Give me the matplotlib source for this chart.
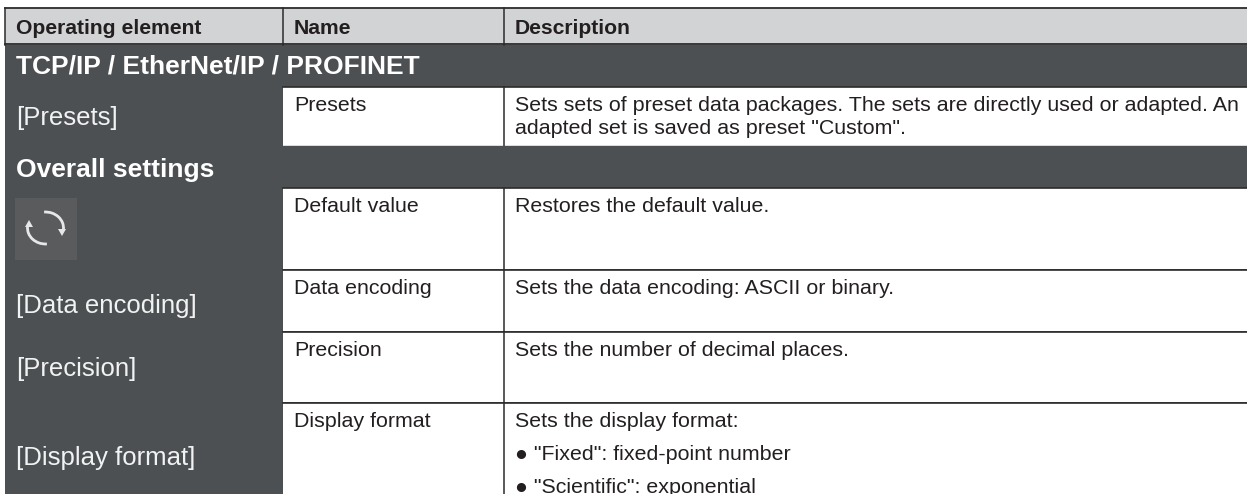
import matplotlib
matplotlib.use('Agg')
import matplotlib.pyplot as plt
from matplotlib.patches import Rectangle, Arc, Polygon

plt.rcParams['font.family'] = ['Liberation Sans', 'DejaVu Sans']

headers = ['Operating element', 'Name', 'Description']
section_titles = ['TCP/IP / EtherNet/IP / PROFINET', 'Overall settings']
elements = ['[Presets]', '[Data encoding]', '[Precision]', '[Display format]']
names = ['Presets', 'Default value', 'Data encoding', 'Precision', 'Display format']
descriptions = [
    ['Sets sets of preset data packages. The sets are directly used or adapted. An',
     'adapted set is saved as preset "Custom".'],
    ['Restores the default value.'],
    ['Sets the data encoding: ASCII or binary.'],
    ['Sets the number of decimal places.'],
    ['Sets the display format:',
     '\u25cf "Fixed": fixed-point number',
     '\u25cf "Scientific": exponential'],
]

DARK = '#4c5052'
HEAD = '#d1d3d4'
LINE = '#2b2b2b'
TXT = '#231f20'

fig = plt.figure(figsize=(12.47, 4.94), dpi=100)
ax = fig.add_axes([0, 0, 1, 1])
ax.set_xlim(0, 1247)
ax.set_ylim(494, 0)
ax.axis('off')

x_left, x_name, x_desc, x_right = 5, 283, 504, 1247

# dark background
ax.add_patch(Rectangle((x_left, 45), x_right - x_left, 449, fc=DARK, ec='none'))

# header row
ax.add_patch(Rectangle((x_left, 8), x_right - x_left, 37, fc=HEAD, ec='none'))
ax.plot([x_left, x_right], [8.5, 8.5], color=LINE, lw=1.3)
ax.plot([x_left, x_right], [44.5, 44.5], color=LINE, lw=1.3)
for x in [x_left, x_name, x_desc]:
    ax.plot([x, x], [8, 45], color=LINE, lw=1.1)
for x, h in zip([16, 294, 515], headers):
    ax.text(x, 28, h, fontsize=15.2, fontweight='bold', color=TXT, va='center')

# white rows
row_tops = [87, 188, 270, 332, 403]
row_bots = [146, 269, 331, 402, 494]
for top, bot, nm, desc in zip(row_tops, row_bots, names, descriptions):
    ax.add_patch(Rectangle((x_name, top), x_right - x_name, bot - top, fc='white', ec='none'))
    ax.plot([x_desc, x_desc], [top, bot], color=LINE, lw=1.1)
    ax.plot([x_name, x_right], [top, top], color=LINE, lw=1.2)
    ax.text(294, top + 18, nm, fontsize=15.4, color=TXT, va='center')
    spacing = 33 if len(desc) > 2 else 23
    for i, line in enumerate(desc):
        ax.text(515, top + 18 + i * spacing, line, fontsize=15.4, color=TXT, va='center')
ax.plot([x_name, x_right], [146, 146], color=DARK, lw=1)

# section titles
for y, t in zip([67, 170], section_titles):
    ax.text(16, y, t, fontsize=19, fontweight='bold', color='white', va='center')

# left column labels
for y, t in zip([118, 306, 369, 458], elements):
    ax.text(16, y, t, fontsize=18.5, color='#f1f2f2', va='center')

# reset icon
ax.add_patch(Rectangle((15, 198), 62, 62, fc='#5a5b5c', ec='none'))
ax.add_patch(Arc((45.5, 228), 36, 32, theta1=-95, theta2=5, color='#e6e7e8', lw=2))
ax.add_patch(Arc((45.5, 228), 36, 32, theta1=85, theta2=185, color='#e6e7e8', lw=2))
ax.add_patch(Polygon([[58, 229], [66, 229], [62, 236]], fc='#e6e7e8', ec='none'))
ax.add_patch(Polygon([[25, 227], [33, 227], [29, 220]], fc='#e6e7e8', ec='none'))

fig.savefig('out.png', dpi=100)
